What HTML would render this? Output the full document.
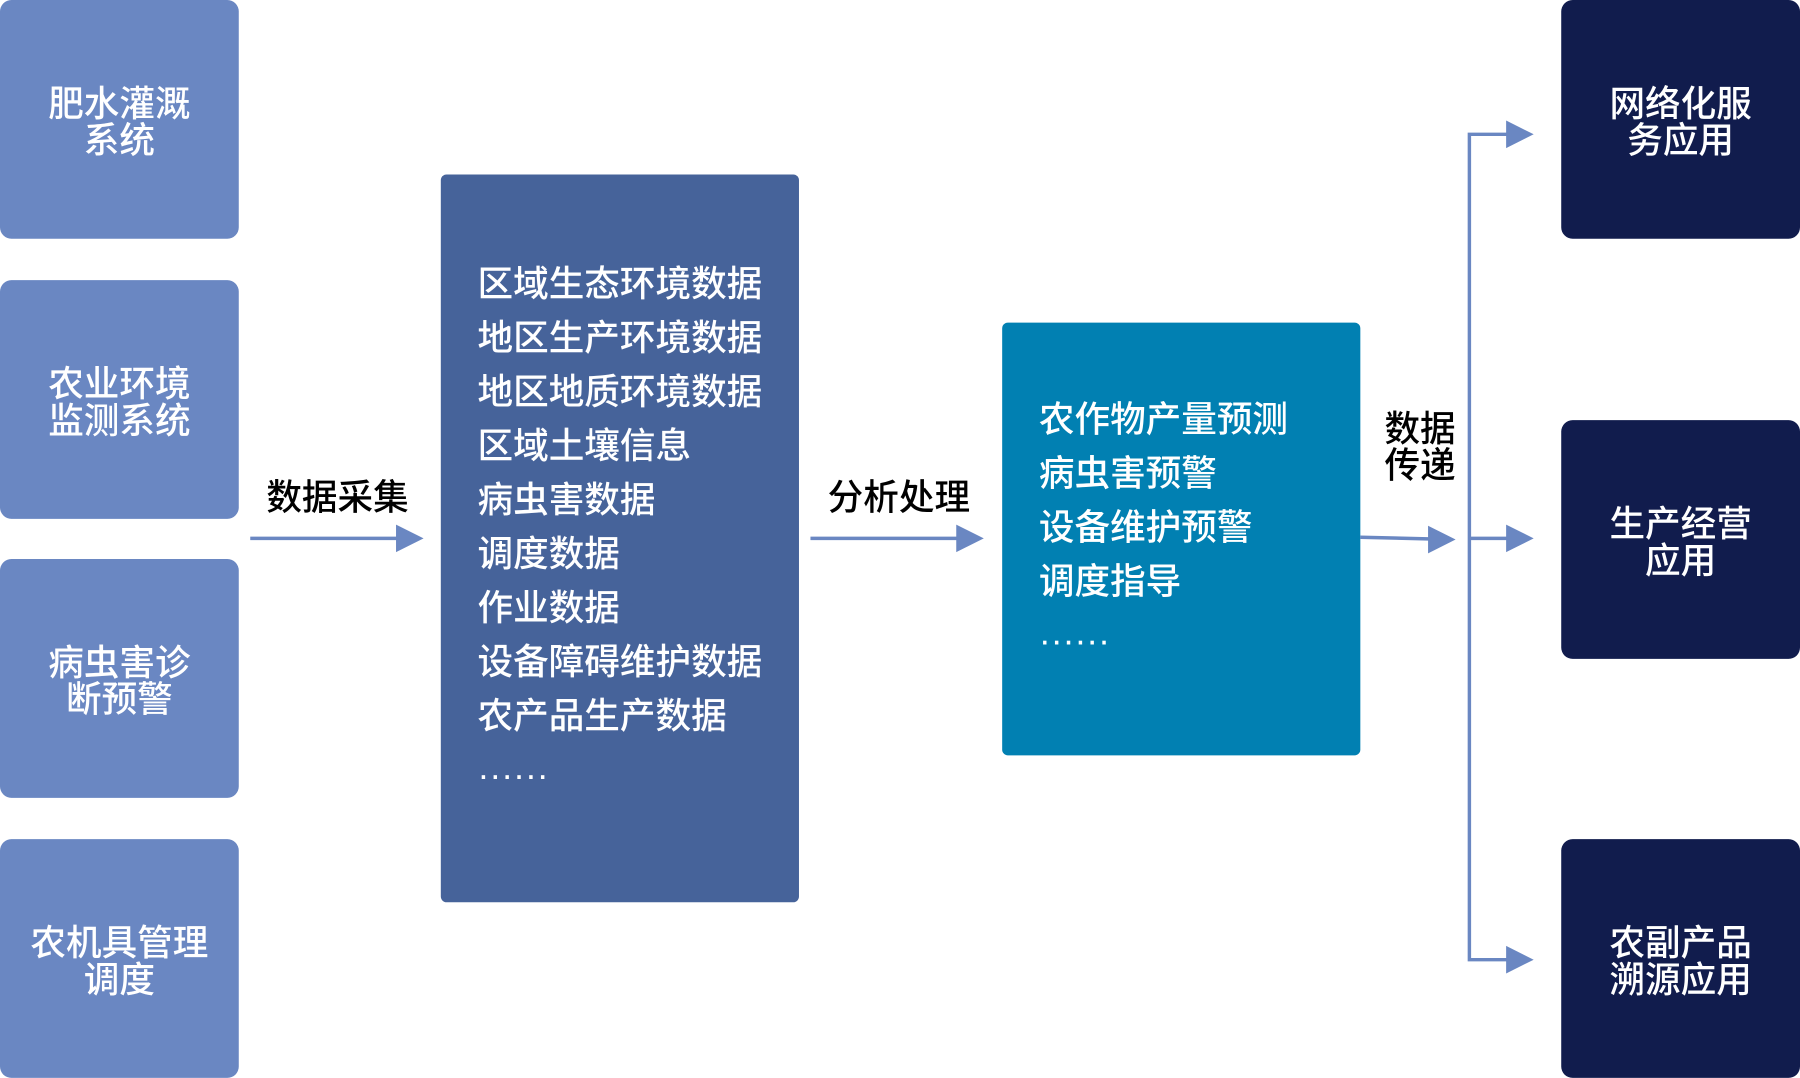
<!DOCTYPE html>
<html><head><meta charset="utf-8"><style>
html,body{margin:0;padding:0;background:#fff;width:1800px;height:1078px;overflow:hidden}
#w{position:absolute;left:0;top:0;width:1568px;height:939px;transform:scale(1.14796);transform-origin:0 0;font-family:"Liberation Sans","Noto Sans CJK SC",sans-serif;font-weight:500}
.b{position:absolute;border-radius:10px;color:#fff;display:flex;align-items:center;justify-content:center;text-align:center;font-size:31px;line-height:32px;padding-top:6px;box-sizing:border-box}
.l{background:#6a87c2;left:0;width:208px;height:208px}
.r{background:#111c4d;left:1360px;width:208px;height:208px}
.t{position:absolute;color:#fff;font-size:31px;line-height:47px;white-space:nowrap}
.lab{position:absolute;font-size:31px;line-height:32px;color:#000;text-align:center}
</style></head><body><div id="w">
<div class="b l" style="top:0">肥水灌溉<br>系统</div>
<div class="b l" style="top:244px">农业环境<br>监测系统</div>
<div class="b l" style="top:487px">病虫害诊<br>断预警</div>
<div class="b l" style="top:731px">农机具管理<br>调度</div>
<div class="b r" style="top:0">网络化服<br>务应用</div>
<div class="b r" style="top:366px">生产经营<br>应用</div>
<div class="b r" style="top:731px">农副产品<br>溯源应用</div>
<div style="position:absolute;left:384px;top:152px;width:312px;height:634px;background:#46639a;border-radius:5px"></div>
<div class="t" style="left:416px;top:224px">区域生态环境数据<br>地区生产环境数据<br>地区地质环境数据<br>区域土壤信息<br>病虫害数据<br>调度数据<br>作业数据<br>设备障碍维护数据<br>农产品生产数据<br><span style="position:relative;top:4px">······</span></div>
<div style="position:absolute;left:873px;top:281px;width:312px;height:377px;background:#0180b2;border-radius:5px"></div>
<div class="t" style="left:905px;top:342px">农作物产量预测<br>病虫害预警<br>设备维护预警<br>调度指导<br><span style="position:relative;top:4px">······</span></div>
<div class="lab" style="left:232px;top:418px">数据采集</div>
<div class="lab" style="left:721px;top:418px">分析处理</div>
<div class="lab" style="left:1206px;top:358px">数据<br>传递</div>
<svg style="position:absolute;left:0;top:0" width="1568" height="939">
<g stroke="#6a87c2" stroke-width="3" fill="none">
<line x1="218" y1="469" x2="348" y2="469"/>
<line x1="706" y1="469" x2="836" y2="469"/>
<line x1="1185" y1="468" x2="1248" y2="469.5"/>
<polyline points="1314,117 1280,117 1280,836 1314,836"/>
<line x1="1280" y1="469" x2="1314" y2="469"/>
</g>
<g fill="#6a87c2">
<polygon points="345,457 369,469 345,481"/>
<polygon points="833,457 857,469 833,481"/>
<polygon points="1244,458 1268,470 1244,482"/>
<polygon points="1312,105 1336,117 1312,129"/>
<polygon points="1312,457 1336,469 1312,481"/>
<polygon points="1312,824 1336,836 1312,848"/>
</g>
</svg>
</div></body></html>
